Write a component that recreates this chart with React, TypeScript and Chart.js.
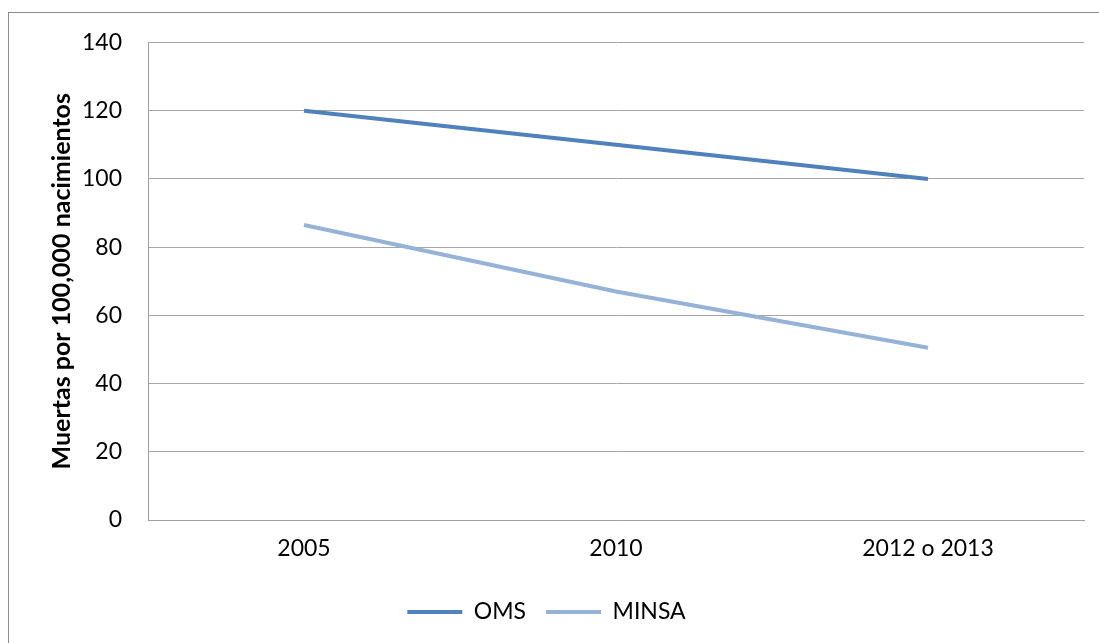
import React, { useEffect, useRef } from "react";
import { Chart, registerables } from "chart.js";

Chart.register(...registerables);

const categories = ["2005", "2010", "2012 o 2013"];
const omsValues = [120, 110, 100];
const minsaValues = [86.5, 67, 50.5];
const yMin = 0;
const yMax = 140;
const yStep = 20;
const yTitle = "Muertas por 100,000 nacimientos";

const FONT = "Lato, 'Open Sans', sans-serif";

export default function App() {
  const ref = useRef<HTMLCanvasElement | null>(null);

  useEffect(() => {
    if (!ref.current) return;
    const chart = new Chart(ref.current, {
      type: "line",
      data: {
        labels: categories,
        datasets: [
          {
            label: "OMS",
            data: omsValues,
            borderColor: "#4F81BD",
            backgroundColor: "#4F81BD",
            borderWidth: 4,
            pointRadius: 0,
            tension: 0,
          },
          {
            label: "MINSA",
            data: minsaValues,
            borderColor: "#95B3D7",
            backgroundColor: "#95B3D7",
            borderWidth: 4,
            pointRadius: 0,
            tension: 0,
          },
        ],
      },
      options: {
        responsive: false,
        animation: false,
        layout: { padding: { left: 0, right: 18, top: 29.5, bottom: 9.5 } },
        plugins: {
          tooltip: { enabled: false },
          legend: {
            position: "bottom",
            labels: {
              usePointStyle: true,
              pointStyle: "line",
              pointStyleWidth: 55,
              color: "#000",
              padding: 20,
              font: { family: FONT, size: 23 },
            },
          },
        },
        scales: {
          x: {
            offset: true,
            grid: { display: false, drawTicks: false },
            border: { display: true, color: "#A0A0A0", width: 1 },
            ticks: { color: "#000", padding: 15, font: { family: FONT, size: 23 } },
            afterFit: (s: any) => {
              s.height = 60.5;
            },
          },
          y: {
            min: yMin,
            max: yMax,
            grid: {
              color: "#A6A6A6",
              drawTicks: true,
              tickLength: 26,
              tickColor: "rgba(0,0,0,0)",
              lineWidth: 1,
            },
            border: { display: true, color: "#A0A0A0", width: 1 },
            ticks: {
              stepSize: yStep,
              color: "#000",
              padding: 0,
              font: { family: FONT, size: 23 },
            },
            title: {
              display: true,
              text: yTitle,
              color: "#000",
              padding: { top: 38, bottom: 0 },
              font: { family: FONT, size: 25, weight: "bold" },
            },
            afterFit: (s: any) => {
              s.width = 139;
            },
          },
        },
      },
    });
    return () => chart.destroy();
  }, []);

  return (
    <div
      style={{
        position: "fixed",
        left: 8,
        top: 12,
        width: 1093,
        height: 640,
        border: "1px solid #8C8C8C",
        background: "#fff",
      }}
    >
      <canvas ref={ref} width={1093} height={630} style={{ display: "block" }} />
    </div>
  );
}
